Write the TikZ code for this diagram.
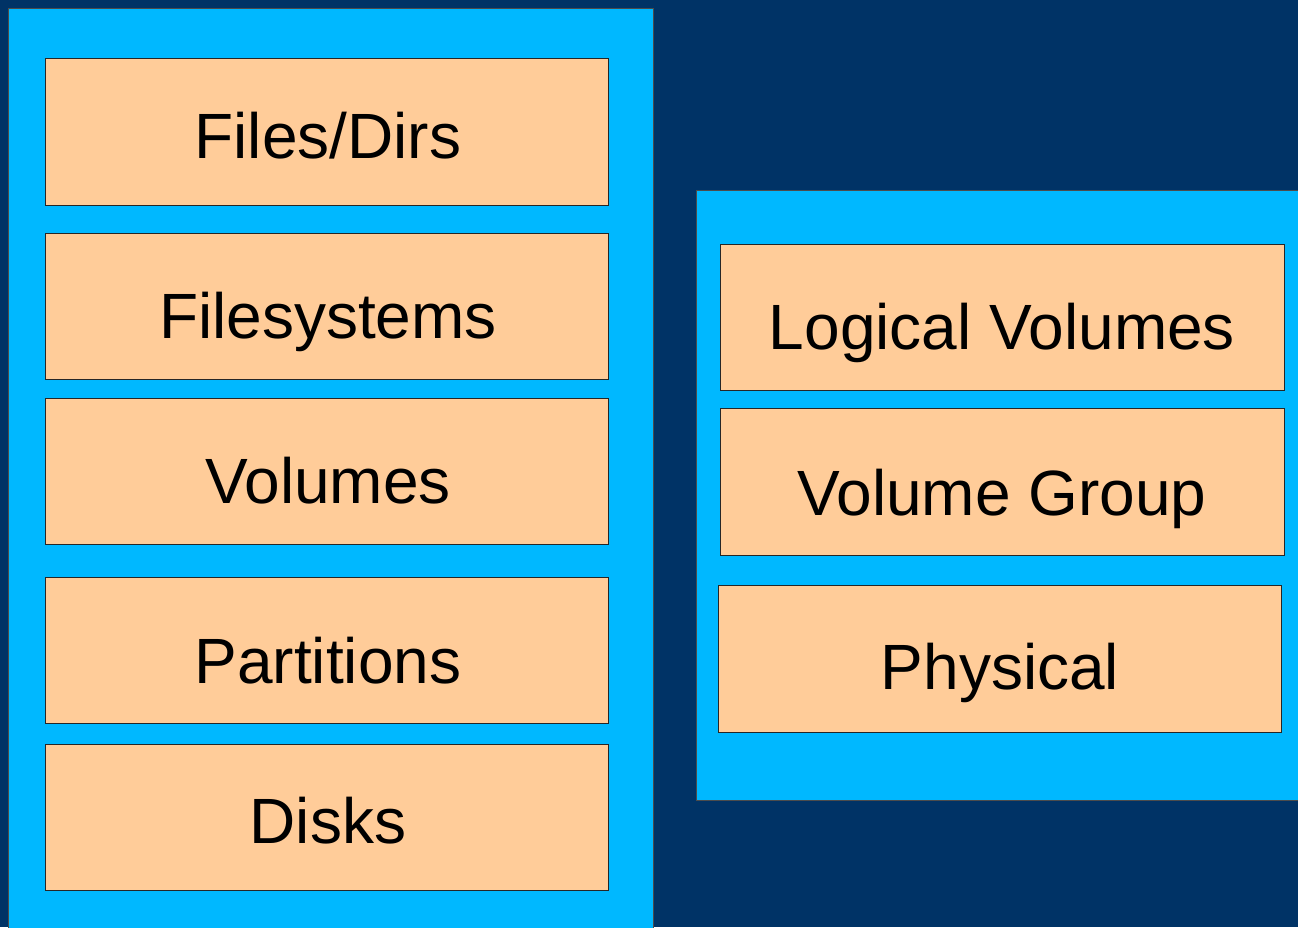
\documentclass[tikz,border=0pt]{standalone}
\usepackage{fontspec}
\setmainfont{Liberation Sans}
\definecolor{navy}{HTML}{003366}
\definecolor{panelblue}{HTML}{00B8FF}
\definecolor{peach}{HTML}{FFCC99}
\tikzset{
  panel/.style={draw=black!70, line width=1pt, fill=panelblue},
  layer/.style={draw=black!85, line width=1pt, fill=peach, rectangle, inner sep=0pt},
  caption/.style={anchor=base, inner sep=0pt, font=\fontsize{64}{72}\selectfont},
}
\newcommand{\layerbox}[6]{%
  \node[layer, minimum width=#3-#2, minimum height=#5-#4] (#1) at ({(#2+#3)/2},{(#4+#5)/2}) {};}
\begin{document}
\begin{tikzpicture}[x=1pt,y=-1pt]
  \useasboundingbox (0,0) rectangle (1298,927);
  \fill[navy] (0,0) rectangle (1298,927);
  % left stack panel
  \draw[panel] (8,937) -- (8,8) -- (653,8) -- (653,937);
  \fill[panelblue] (8.5,8.5) rectangle (652.5,937);
  % right LVM panel
  \draw[panel] (1308,190) -- (696,190) -- (696,800) -- (1308,800);
  \fill[panelblue] (696.5,190.5) rectangle (1308,799.5);
  % left stack layers
  \layerbox{files}{45}{608}{58}{205}{}
  \layerbox{fs}{45}{608}{233}{379}{}
  \layerbox{vols}{45}{608}{398}{544}{}
  \layerbox{parts}{45}{608}{577}{723}{}
  \layerbox{disks}{45}{608}{744}{890}{}
  \node[caption] (tfiles) at (328,158) {Files/Dirs};
  \node[caption] (tfs) at (328,338) {Filesystems};
  \node[caption] (tvols) at (328,503) {Volumes};
  \node[caption] (tparts) at (328,683) {Partitions};
  \node[caption] (tdisks) at (328,843) {Disks};
  % LVM layers
  \layerbox{lv}{720}{1284}{244}{390}{}
  \layerbox{vg}{720}{1284}{408}{555}{}
  \layerbox{pv}{718}{1281}{585}{732}{}
  \node[caption] (tlv) at (1002,349) {Logical Volumes};
  \node[caption] (tvg) at (1002,515) {Volume Group};
  \node[caption] (tpv) at (1000,689) {Physical};
\end{tikzpicture}
\end{document}
